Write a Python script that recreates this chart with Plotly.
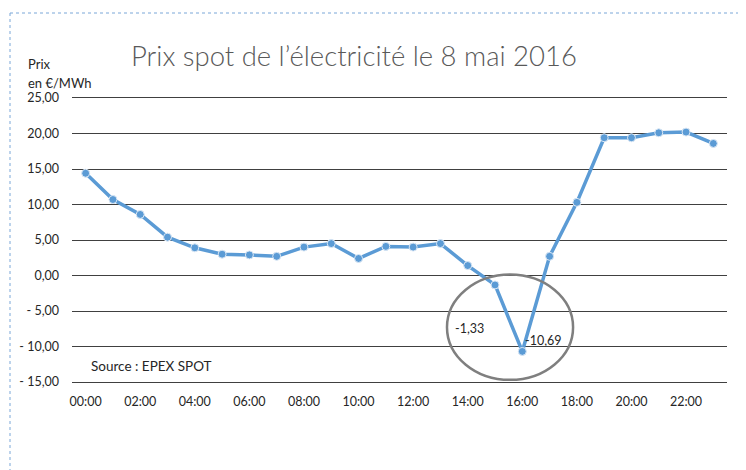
import plotly.graph_objects as go

hours = [f"{h:02d}:00" for h in range(24)]
prices = [14.4, 10.7, 8.6, 5.4, 3.9, 3.0, 2.9, 2.7, 4.0, 4.5, 2.4, 4.1,
          4.0, 4.5, 1.4, -1.33, -10.69, 2.7, 10.3, 19.4, 19.4, 20.1, 20.2, 18.6]
y_ticks = [25, 20, 15, 10, 5, 0, -5, -10, -15]
y_tick_text = ["25,00", "20,00", "15,00", "10,00", "5,00", "0,00",
               "-\u00a05,00", "-\u00a010,00", "-\u00a015,00"]
x_tick_labels = hours[::2]

FONT = "Lato"
OFF = 8  # page body margin offset

fig = go.Figure()
fig.add_trace(go.Scatter(
    x=hours, y=prices, mode="lines+markers",
    line=dict(color="#5B9BD5", width=3.5),
    marker=dict(color="#5B9BD5", size=8, line=dict(color="#dce8f5", width=1)),
    hoverinfo="x+y", showlegend=False,
))

fig.update_layout(
    width=746 - OFF, height=470 - OFF,
    margin=dict(l=72 - OFF, r=19, t=98 - OFF, b=88, pad=0),
    paper_bgcolor="white", plot_bgcolor="white",
    font=dict(family=FONT, color="#262626", size=12),
    xaxis=dict(type="category", range=[-0.5, 23.5], tickvals=x_tick_labels,
               ticktext=x_tick_labels, showgrid=False, zeroline=False,
               showline=True, mirror=True, linecolor="#404040", linewidth=1,
               ticks="", ticklabelstandoff=8,
               tickfont=dict(size=12.5, color="#262626")),
    yaxis=dict(range=[-15, 25], tickvals=y_ticks, ticktext=y_tick_text,
               showgrid=True, gridcolor="#404040", gridwidth=1, zeroline=False,
               showline=False, ticks="", ticklabelstandoff=12,
               tickfont=dict(size=12.5, color="#262626")),
)

# page pixel -> paper coordinates (plot area spans page x 72..727, y 98..382)
def px(xr):
    return (xr - 72) / 655

def py(yr):
    return (382 - yr) / 284

annotations = [
    dict(text="Prix spot de l’électricité le 8 mai 2016", xref="paper", yref="paper",
         x=px(354), y=py(55), yanchor="middle", showarrow=False,
         font=dict(size=27.5, color="#595959", family=FONT, weight=300)),
    dict(text="Prix", xref="paper", yref="paper", x=px(26), y=py(64),
         xanchor="left", yanchor="middle", showarrow=False,
         font=dict(size=13, color="#262626")),
    dict(text="en €/MWh", xref="paper", yref="paper", x=px(26), y=py(83),
         xanchor="left", yanchor="middle", showarrow=False,
         font=dict(size=13, color="#262626")),
    dict(text="Source : EPEX SPOT", xref="paper", yref="paper", x=px(89),
         y=py(366), xanchor="left", yanchor="middle", showarrow=False,
         font=dict(size=13.5, color="#262626")),
    dict(text="-1,33", xref="x", yref="y", x=14.08, y=-7.4, yanchor="middle",
         showarrow=False, font=dict(size=12.5, color="#262626")),
    dict(text="-10,69", xref="x", yref="y", x=16.76, y=-9.1, yanchor="middle",
         showarrow=False, font=dict(size=12.5, color="#262626")),
]
fig.update_layout(annotations=annotations)

shapes = [
    dict(type="circle", xref="x", yref="y", x0=13.24, x1=17.86, y0=-14.7, y1=0.14,
         line=dict(color="#7f7f7f", width=2.5)),
    dict(type="line", xref="paper", yref="paper", x0=px(10), x1=px(746),
         y0=py(13), y1=py(13), line=dict(color="#7aa7d8", width=1, dash="dot")),
    dict(type="line", xref="paper", yref="paper", x0=px(10), x1=px(10),
         y0=py(13), y1=py(470), line=dict(color="#7aa7d8", width=1, dash="dot")),
]
fig.update_layout(shapes=shapes)

fig.write_html("out.html")
